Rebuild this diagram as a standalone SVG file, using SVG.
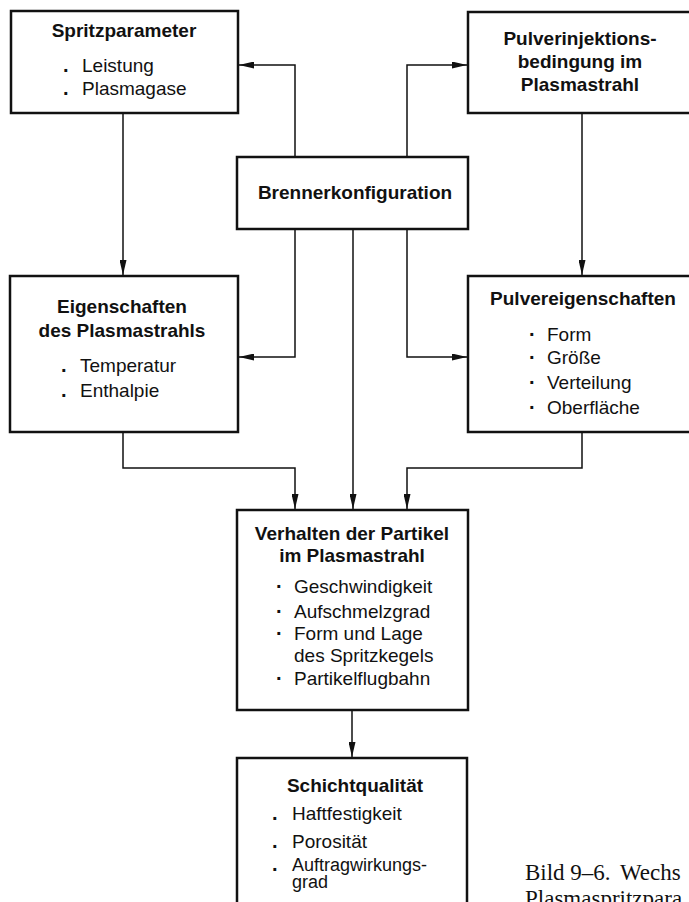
<svg xmlns="http://www.w3.org/2000/svg" width="689" height="902" viewBox="0 0 689 902">
<style>
.box{fill:#fff;stroke:#111;stroke-width:2.5}
.ln{fill:none;stroke:#111;stroke-width:1.5}
.t{font-family:"Liberation Sans",Arial,sans-serif;font-size:19px;font-weight:bold;fill:#111;text-anchor:middle}
.i{font-family:"Liberation Sans",Arial,sans-serif;font-size:19px;fill:#111}
.b{font-family:"Liberation Sans",Arial,sans-serif;font-size:20px;font-weight:bold;fill:#111}
.cap{font-family:"Liberation Serif","Times New Roman",serif;font-size:23px;fill:#111}
</style>
<defs>
<marker id="ah" markerUnits="userSpaceOnUse" markerWidth="15" markerHeight="7" refX="15" refY="3.5" orient="auto">
<path d="M0,0 L15,3.5 L0,7 z" fill="#111"/>
</marker>
</defs>
<rect width="689" height="902" fill="#fff"/>
<g id="connectors">
<polyline class="ln" points="295,157 295,65 239,65" marker-end="url(#ah)"/>
<polyline class="ln" points="407,157 407,65 467,65" marker-end="url(#ah)"/>
<polyline class="ln" points="295,229 295,357 239,357" marker-end="url(#ah)"/>
<polyline class="ln" points="407,229 407,357 467,357" marker-end="url(#ah)"/>
<polyline class="ln" points="353,229 353,509" marker-end="url(#ah)"/>
<polyline class="ln" points="123,113 123,275" marker-end="url(#ah)"/>
<polyline class="ln" points="582,113 582,275" marker-end="url(#ah)"/>
<polyline class="ln" points="123,432 123,468 295,468 295,509" marker-end="url(#ah)"/>
<polyline class="ln" points="582,432 582,468 407,468 407,509" marker-end="url(#ah)"/>
<polyline class="ln" points="352,710 352,757" marker-end="url(#ah)"/>
</g>
<g id="spritzparameter">
<rect class="box" x="11" y="11" width="227" height="102"/>
<text class="t" x="124" y="37">Spritzparameter</text>
<text class="b" x="63" y="72">.</text><text class="i" x="82" y="72">Leistung</text>
<text class="b" x="63" y="95">.</text><text class="i" x="82" y="95">Plasmagase</text>
</g>
<g id="pulverinjektion">
<rect class="box" x="468" y="12" width="240" height="101"/>
<text class="t" x="580" y="45">Pulverinjektions-</text>
<text class="t" x="580" y="68">bedingung im</text>
<text class="t" x="580" y="91">Plasmastrahl</text>
</g>
<g id="brennerkonfiguration">
<rect class="box" x="237" y="157" width="231" height="72"/>
<text class="t" x="355" y="199">Brennerkonfiguration</text>
</g>
<g id="eigenschaften">
<rect class="box" x="10" y="276" width="228" height="156"/>
<text class="t" x="122" y="313">Eigenschaften</text>
<text class="t" x="122" y="337">des Plasmastrahls</text>
<text class="b" x="61" y="372">.</text><text class="i" x="80" y="372">Temperatur</text>
<text class="b" x="61" y="397">.</text><text class="i" x="80" y="397">Enthalpie</text>
</g>
<g id="pulvereigenschaften">
<rect class="box" x="468" y="276" width="240" height="156"/>
<text class="t" x="583" y="305">Pulvereigenschaften</text>
<text class="b" x="529" y="341">·</text><text class="i" x="547" y="341">Form</text>
<text class="b" x="529" y="364">·</text><text class="i" x="547" y="364">Größe</text>
<text class="b" x="529" y="389">·</text><text class="i" x="547" y="389">Verteilung</text>
<text class="b" x="529" y="414">·</text><text class="i" x="547" y="414">Oberfläche</text>
</g>
<g id="verhalten">
<rect class="box" x="237" y="510" width="231" height="200"/>
<text class="t" x="352" y="540">Verhalten der Partikel</text>
<text class="t" x="352" y="562">im Plasmastrahl</text>
<text class="b" x="276" y="593">·</text><text class="i" x="294" y="593">Geschwindigkeit</text>
<text class="b" x="276" y="618">·</text><text class="i" x="294" y="618">Aufschmelzgrad</text>
<text class="b" x="276" y="640">·</text><text class="i" x="294" y="640">Form und Lage</text>
<text class="i" x="294" y="662">des Spritzkegels</text>
<text class="b" x="276" y="685">·</text><text class="i" x="294" y="685">Partikelflugbahn</text>
</g>
<g id="schichtqualitaet">
<rect class="box" x="237" y="758" width="230" height="160"/>
<text class="t" x="355" y="792">Schichtqualität</text>
<text class="b" x="272" y="820">.</text><text class="i" x="292" y="820">Haftfestigkeit</text>
<text class="b" x="272" y="848">.</text><text class="i" x="292" y="848">Porosität</text>
<text class="b" x="272" y="871">.</text><text class="i" x="292" y="871" style="font-size:18px">Auftragwirkungs-</text>
<text class="i" x="292" y="888" style="font-size:18px">grad</text>
</g>
<g id="caption">
<text class="cap" x="525" y="880">Bild 9–6.<tspan x="620">Wechs</tspan></text>
<text class="cap" x="525" y="906">Plasmaspritzpara</text>
</g>
</svg>
